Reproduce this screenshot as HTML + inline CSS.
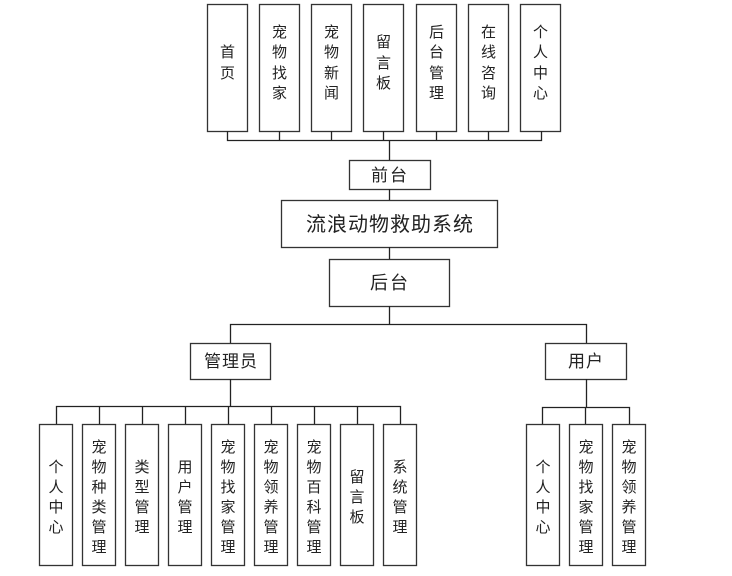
<!DOCTYPE html>
<html><head><meta charset="utf-8"><style>
html,body{margin:0;padding:0;background:#fff;}
svg{display:block;}
text{font-family:"Liberation Sans","Noto Sans CJK SC",sans-serif;fill:#222;}
</style></head><body>
<svg width="732" height="576" viewBox="0 0 732 576" xmlns="http://www.w3.org/2000/svg">
<g fill="#fff" stroke="#333" stroke-width="1.3">
<!-- top boxes -->
<rect x="207.5" y="4.5" width="40" height="127"/>
<rect x="259.5" y="4.5" width="40" height="127"/>
<rect x="311.5" y="4.5" width="40" height="127"/>
<rect x="363.5" y="4.5" width="40" height="127"/>
<rect x="416.5" y="4.5" width="40" height="127"/>
<rect x="468.5" y="4.5" width="40" height="127"/>
<rect x="520.5" y="4.5" width="40" height="127"/>
<rect x="349.5" y="160.5" width="81" height="29"/>
<rect x="281.5" y="200.5" width="216" height="47"/>
<rect x="329.5" y="259.5" width="120" height="47"/>
<rect x="190.5" y="343.5" width="80" height="36"/>
<rect x="545.5" y="343.5" width="81" height="36"/>
<rect x="39.5" y="424.5" width="33" height="141"/>
<rect x="82.5" y="424.5" width="33" height="141"/>
<rect x="125.5" y="424.5" width="33" height="141"/>
<rect x="168.5" y="424.5" width="33" height="141"/>
<rect x="211.5" y="424.5" width="33" height="141"/>
<rect x="254.5" y="424.5" width="33" height="141"/>
<rect x="297.5" y="424.5" width="33" height="141"/>
<rect x="340.5" y="424.5" width="33" height="141"/>
<rect x="383.5" y="424.5" width="33" height="141"/>
<rect x="526.5" y="424.5" width="33" height="141"/>
<rect x="569.5" y="424.5" width="33" height="141"/>
<rect x="612.5" y="424.5" width="33" height="141"/>
</g>
<g stroke="#222" stroke-width="1.3" fill="none">
<path d="M227.5 131V140.5H541.5V131M279.5 131V140M331.5 131V140M383.5 131V140M436.5 131V140M488.5 131V140"/>
<path d="M389.5 140V160M389.5 189V200M389.5 247V259M389.5 306V324"/>
<path d="M230.5 343V324.5H586.5V343"/>
<path d="M230.5 379V406M56.5 424V406.5H400.5V424M99.5 406V424M142.5 406V424M185.5 406V424M228.5 406V424M271.5 406V424M314.5 406V424M357.5 406V424"/>
<path d="M586.5 379V407M542.5 424V407.5H629.5V424M585.5 407V424"/>
</g>
<g font-size="15" text-anchor="middle">
<text x="227.5" y="57">首</text><text x="227.5" y="78">页</text>
<text x="279.5" y="37">宠</text><text x="279.5" y="57">物</text><text x="279.5" y="78">找</text><text x="279.5" y="98">家</text>
<text x="331.5" y="37">宠</text><text x="331.5" y="57">物</text><text x="331.5" y="78">新</text><text x="331.5" y="98">闻</text>
<text x="383.5" y="47">留</text><text x="383.5" y="68">言</text><text x="383.5" y="88">板</text>
<text x="436.5" y="37">后</text><text x="436.5" y="57">台</text><text x="436.5" y="78">管</text><text x="436.5" y="98">理</text>
<text x="488.5" y="37">在</text><text x="488.5" y="57">线</text><text x="488.5" y="78">咨</text><text x="488.5" y="98">询</text>
<text x="540.5" y="37">个</text><text x="540.5" y="57">人</text><text x="540.5" y="78">中</text><text x="540.5" y="98">心</text>
</g>
<g text-anchor="middle">
<text x="390" y="181" font-size="17" letter-spacing="2">前台</text>
<text x="390" y="231" font-size="20" letter-spacing="1">流浪动物救助系统</text>
<text x="390" y="289" font-size="18" letter-spacing="2">后台</text>
<text x="231" y="367" font-size="17" letter-spacing="1">管理员</text>
<text x="586" y="367" font-size="17" letter-spacing="1">用户</text>
</g>
<g font-size="15" text-anchor="middle">
<text x="56" y="472">个</text><text x="56" y="492">人</text><text x="56" y="512">中</text><text x="56" y="532">心</text>
<text x="99" y="452">宠</text><text x="99" y="472">物</text><text x="99" y="492">种</text><text x="99" y="512">类</text><text x="99" y="532">管</text><text x="99" y="552">理</text>
<text x="142" y="472">类</text><text x="142" y="492">型</text><text x="142" y="512">管</text><text x="142" y="532">理</text>
<text x="185" y="472">用</text><text x="185" y="492">户</text><text x="185" y="512">管</text><text x="185" y="532">理</text>
<text x="228" y="452">宠</text><text x="228" y="472">物</text><text x="228" y="492">找</text><text x="228" y="512">家</text><text x="228" y="532">管</text><text x="228" y="552">理</text>
<text x="271" y="452">宠</text><text x="271" y="472">物</text><text x="271" y="492">领</text><text x="271" y="512">养</text><text x="271" y="532">管</text><text x="271" y="552">理</text>
<text x="314" y="452">宠</text><text x="314" y="472">物</text><text x="314" y="492">百</text><text x="314" y="512">科</text><text x="314" y="532">管</text><text x="314" y="552">理</text>
<text x="357" y="482">留</text><text x="357" y="502">言</text><text x="357" y="522">板</text>
<text x="400" y="472">系</text><text x="400" y="492">统</text><text x="400" y="512">管</text><text x="400" y="532">理</text>
<text x="543" y="472">个</text><text x="543" y="492">人</text><text x="543" y="512">中</text><text x="543" y="532">心</text>
<text x="586" y="452">宠</text><text x="586" y="472">物</text><text x="586" y="492">找</text><text x="586" y="512">家</text><text x="586" y="532">管</text><text x="586" y="552">理</text>
<text x="629" y="452">宠</text><text x="629" y="472">物</text><text x="629" y="492">领</text><text x="629" y="512">养</text><text x="629" y="532">管</text><text x="629" y="552">理</text>
</g>
</svg>
</body></html>
